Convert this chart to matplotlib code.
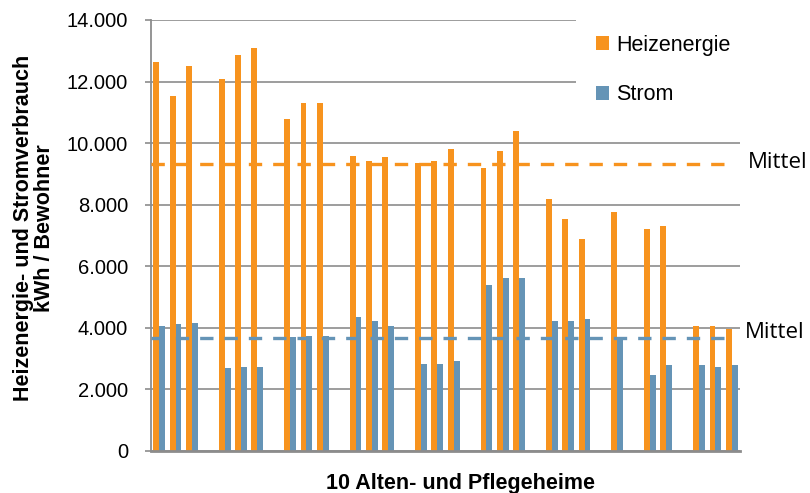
import matplotlib
matplotlib.use("Agg")
import matplotlib.pyplot as plt
import numpy as np
from matplotlib.patches import Rectangle
from matplotlib.ticker import FuncFormatter

plt.rcParams["font.family"] = ["Liberation Sans", "DejaVu Sans"]

# ── data: 36 slots (10 homes x up to 3 years, gaps as None) ────────────────────
heizenergie = [12630, 11520, 12510, None, 12070, 12850, 13080, None,
               10800, 11300, 11300, None, 9590, 9410, 9540, None,
               9350, 9420, 9810, None, 9200, 9750, 10410, None,
               8200, 7540, 6880, None, 7760, None, 7210, 7310, None,
               4050, 4050, 3950]
strom = [4050, 4120, 4170, None, 2680, 2730, 2730, None,
         3690, 3730, 3730, None, 4340, 4230, 4050, None,
         2840, 2840, 2910, None, 5390, 5610, 5610, None,
         4230, 4230, 4280, None, 3670, None, 2460, 2790, None,
         2790, 2730, 2790]
mittel_heiz = 9320
mittel_strom = 3670
series_labels = ["Heizenergie", "Strom"]
y_ticks = [0, 2000, 4000, 6000, 8000, 10000, 12000, 14000]

ORANGE = "#F7931E"
BLUE = "#6594B6"
GRID = "#8C8C8C"

W, H = 810, 493
fig = plt.figure(figsize=(W / 100, H / 100), dpi=100, facecolor="white")
ax = fig.add_axes([151 / W, 42 / H, 589 / W, 431 / H])

heiz = np.array([np.nan if v is None else v for v in heizenergie], float)
st = np.array([np.nan if v is None else v for v in strom], float)
x = np.arange(len(heiz))
bw = 0.36

ax.bar(x - bw / 2, heiz, bw, color=ORANGE, label=series_labels[0], zorder=2)
ax.bar(x + bw / 2, st, bw, color=BLUE, label=series_labels[1], zorder=2)

ax.hlines(mittel_heiz, -0.5, 35.1, colors=ORANGE, lw=2.4, linestyles=(0, (4, 3.3)), zorder=3)
ax.hlines(mittel_strom, -0.5, 35.1, colors=BLUE, lw=2.4, linestyles=(0, (4, 3.3)), zorder=3)

ax.set_xlim(-0.5, len(heiz) - 0.5)
ax.set_ylim(0, 14000)
ax.set_yticks(y_ticks)
ax.yaxis.set_major_formatter(FuncFormatter(lambda v, p: f"{int(v):,}".replace(",", ".")))
ax.set_xticks([])
ax.tick_params(axis="y", length=4.5, width=1.2, color=GRID, pad=12, labelsize=14.5)
ax.grid(axis="y", color=GRID, lw=1.2, zorder=1)
ax.set_axisbelow(True)
for s in ["top", "right"]:
    ax.spines[s].set_visible(False)
ax.spines["left"].set_color(GRID)
ax.spines["left"].set_linewidth(1.3)
ax.spines["bottom"].set_color(GRID)
ax.spines["bottom"].set_linewidth(2.0)

# white area behind legend hides the upper gridlines
ax.add_patch(Rectangle((576 / W, 1 - 120 / H), 170 / W, 115 / H, transform=fig.transFigure,
                       facecolor="white", edgecolor="none", zorder=1.8, clip_on=False))
leg = ax.legend(loc="upper left", bbox_to_anchor=(596 / W, 1 - 35 / H), bbox_transform=fig.transFigure,
                frameon=False, fontsize=15.5, handlelength=0.62, handleheight=0.62,
                handletextpad=0.3, labelspacing=1.32, borderpad=0, borderaxespad=0)

# Mittel labels
ax.text(748 / W, 1 - 163 / H, "Mittel", transform=fig.transFigure, ha="left", va="center",
        fontsize=16, family=["Open Sans", "DejaVu Sans"])
ax.text(745 / W, 1 - 333 / H, "Mittel", transform=fig.transFigure, ha="left", va="center",
        fontsize=16, family=["Open Sans", "DejaVu Sans"])

# axis titles
fig.text(34 / W, 1 - 228 / H, "Heizenergie- und Stromverbrauch\nkWh / Bewohner", rotation=90,
         ha="center", va="center", multialignment="center", fontsize=15.5, fontweight="bold",
         linespacing=1.0)
fig.text(460 / W, 1 - 483 / H, "10 Alten- und Pflegeheime", ha="center", va="center",
         fontsize=15.5, fontweight="bold")

fig.savefig("out.png", dpi=100, facecolor="white")
